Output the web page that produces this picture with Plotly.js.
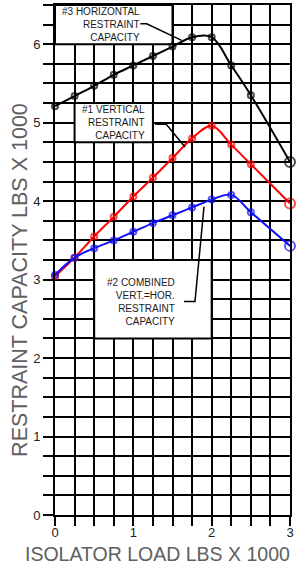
<!DOCTYPE html>
<html>
<head>
<meta charset="utf-8">
<script src="https://cdn.plot.ly/plotly-3.0.1.min.js"></script>
<style>
  html, body { margin: 0; padding: 0; background: #fff; }
  #chart { width: 296px; height: 569px; }
</style>
</head>
<body>
<div id="chart"></div>
<script>
// Isolator load (lbs x 1000)
const isolatorLoad = [0, 0.25, 0.5, 0.75, 1, 1.25, 1.5, 1.75, 2, 2.25, 2.5, 3];
// #3 Horizontal restraint capacity (lbs x 1000)
const horizontalCapacity = [5.21, 5.34, 5.47, 5.61, 5.73, 5.85, 5.97, 6.09, 6.09, 5.73, 5.35, 4.50];
// #1 Vertical restraint capacity
const verticalCapacity = [3.04, 3.28, 3.55, 3.80, 4.06, 4.30, 4.55, 4.80, 4.96, 4.72, 4.47, 3.97];
// #2 Combined vert.=hor. restraint capacity
const combinedCapacity = [3.06, 3.28, 3.40, 3.50, 3.61, 3.72, 3.82, 3.92, 4.02, 4.08, 3.86, 3.43];

const xTickVals = [0, 1, 2, 3];
const xTickText = ['0', '1', '2', '3'];
const yTickVals = [0, 1, 2, 3, 4, 5, 6];
const yTickText = ['0', '1', '2', '3', '4', '5', '6'];

const labelHorizontal = '#3 HORIZONTAL<br>RESTRAINT<br>CAPACITY';
const labelVertical = '#1 VERTICAL<br>RESTRAINT<br>CAPACITY';
const labelCombined = '#2 COMBINED<br>VERT.=HOR.<br>RESTRAINT<br>CAPACITY';
const xTitle = 'ISOLATOR LOAD LBS X 1000';
const yTitle = 'RESTRAINT CAPACITY LBS X 1000';

function markerSizes(n) { return Array.from({length: n}, (_, i) => i === n - 1 ? 10 : 6); }

function series(y, color, name) {
  return {
    type: 'scatter', mode: 'lines+markers', name: name,
    x: isolatorLoad, y: y,
    line: {color: color, width: 2, shape: 'spline', smoothing: 1},
    marker: {symbol: 'circle-open', size: markerSizes(y.length), color: color, line: {color: color, width: 2}},
    cliponaxis: false, showlegend: false, hoverinfo: 'skip'
  };
}

const data = [
  series(horizontalCapacity, '#000000', '#3 Horizontal'),
  series(verticalCapacity, '#ff0000', '#1 Vertical'),
  series(combinedCapacity, '#1010ff', '#2 Combined')
];

const font = 'Arial, "Liberation Sans", Helvetica, sans-serif';

const layout = {
  width: 296, height: 569,
  margin: {l: 55, r: 6, t: 5, b: 54},
  paper_bgcolor: '#fff', plot_bgcolor: '#fff',
  font: {family: font, color: '#222'},
  showlegend: false,
  xaxis: {
    range: [0, 3], fixedrange: true,
    tickmode: 'array', tickvals: xTickVals, ticktext: xTickText,
    ticks: 'outside', ticklen: 9, tickwidth: 2, tickcolor: '#000',
    tickfont: {size: 13, color: '#222', family: font},
    ticklabelstandoff: -5,
    showgrid: true, gridcolor: '#000', gridwidth: 2,
    showline: true, mirror: true, linecolor: '#000', linewidth: 2,
    zeroline: false,
    minor: {dtick: 0.25, tick0: 0, ticks: 'outside', ticklen: 9, tickwidth: 2, tickcolor: '#000',
            showgrid: true, gridcolor: '#000', gridwidth: 2}
  },
  yaxis: {
    range: [0, 6.5], fixedrange: true,
    tickmode: 'array', tickvals: yTickVals, ticktext: yTickText,
    ticks: 'outside', ticklen: 10, tickwidth: 2, tickcolor: '#000',
    tickfont: {size: 13, color: '#222', family: font},
    showgrid: true, gridcolor: '#000', gridwidth: 2,
    showline: true, mirror: true, linecolor: '#000', linewidth: 2,
    zeroline: false,
    minor: {dtick: 0.25, tick0: 0, ticks: 'outside', ticklen: 10, tickwidth: 2, tickcolor: '#000',
            showgrid: true, gridcolor: '#000', gridwidth: 2}
  },
  shapes: [
    {type: 'rect', xref: 'x', yref: 'y', x0: 0, x1: 1.5, y0: 6, y1: 6.5, layer: 'between',
     fillcolor: '#fff', line: {color: '#000', width: 2}},
    {type: 'rect', xref: 'x', yref: 'y', x0: 0.25, x1: 1.25, y0: 4.75, y1: 5.25, layer: 'between',
     fillcolor: '#fff', line: {color: '#000', width: 2}},
    {type: 'rect', xref: 'x', yref: 'y', x0: 0.5, x1: 2, y0: 2.25, y1: 3.25, layer: 'between',
     fillcolor: '#fff', line: {color: '#000', width: 2}},
    {type: 'path', xref: 'x', yref: 'y', path: 'M1.09,6.26 L1.17,6.26 L1.617,6.05', layer: 'above',
     line: {color: '#000', width: 1.5}},
    {type: 'path', xref: 'x', yref: 'y', path: 'M1.28,4.98 L1.42,4.98 L1.66,4.69', layer: 'above',
     line: {color: '#000', width: 1.5}},
    {type: 'path', xref: 'x', yref: 'y', path: 'M1.647,2.72 L1.787,2.72 L1.902,3.93', layer: 'above',
     line: {color: '#000', width: 1.5}}
  ],
  annotations: [
    {xref: 'x', yref: 'y', x: 1.11, y: 6.25, xanchor: 'right', yanchor: 'middle', align: 'right',
     showarrow: false, text: labelHorizontal, font: {size: 10, color: '#1a1a1a', family: font}},
    {xref: 'x', yref: 'y', x: 1.175, y: 5.0, xanchor: 'right', yanchor: 'middle', align: 'right',
     showarrow: false, text: labelVertical, font: {size: 10, color: '#1a1a1a', family: font}},
    {xref: 'x', yref: 'y', x: 1.557, y: 2.71, xanchor: 'right', yanchor: 'middle', align: 'right',
     showarrow: false, text: labelCombined, font: {size: 10, color: '#1a1a1a', family: font}},
    {xref: 'paper', yref: 'paper', x: 0.438, y: -0.0765, xanchor: 'center', yanchor: 'middle',
     showarrow: false, text: xTitle,
     font: {size: 19.5, color: '#606060', family: font}},
    {xref: 'paper', yref: 'paper', x: -0.149, y: 0.461, xanchor: 'center', yanchor: 'middle',
     textangle: -90, showarrow: false, text: yTitle,
     font: {size: 21.5, color: '#606060', family: font}}
  ]
};

Plotly.newPlot('chart', data, layout, {displayModeBar: false, staticPlot: true});
</script>
</body>
</html>
